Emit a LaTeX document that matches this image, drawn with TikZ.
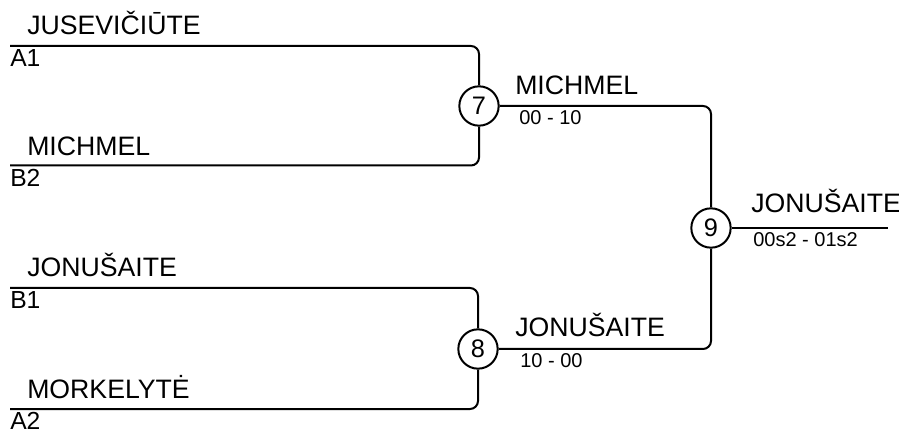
\documentclass[tikz,border=0pt]{standalone}
\usepackage{fontspec}
\setmainfont{Liberation Sans}

\tikzset{
  match/.style={circle,draw,line width=1.5pt,minimum size=29.5pt,inner sep=0pt,
    font=\fontsize{19}{22}\selectfont},
  player/.style={anchor=base west,inner sep=0pt,font=\fontsize{20}{24}\selectfont},
  seed/.style={anchor=base west,inner sep=0pt,font=\fontsize{18.5}{22}\selectfont},
  score/.style={anchor=base west,inner sep=0pt,font=\fontsize{15}{18}\selectfont},
  wire/.style={line width=1.5pt,rounded corners=6pt}
}

\begin{document}
\begin{tikzpicture}[x=0.75pt,y=-0.75pt]
            \useasboundingbox (0,0) rectangle (899,434);

            \coordinate (A1) at (10,46);
            \coordinate (B2) at (10,165.5);
            \coordinate (B1) at (10,288);
            \coordinate (A2) at (10,409);
            \coordinate (W) at (888,228);

            \node[match] (m7) at (479,106) {7};
            \node[match] (m8) at (478,349) {8};
            \node[match] (m9) at (711,228) {9};

            % first round
            \draw[wire] (A1) -| (m7.north);
            \draw[wire] (B2) -| (m7.south);
            \draw[wire] (B1) -| (m8.north);
            \draw[wire] (A2) -| (m8.south);

            % final
            \draw[wire] (m7.east) -| (m9.north);
            \draw[wire] (m8.east) -| (m9.south);
            \draw[wire] (m9.east) -- (W);

            \foreach \P/\who/\y/\s in {
                A1/JUSEVIČIŪTE/35/67, B2/MICHMEL/156/187,
                B1/JONUŠAITE/277/309, A2/MORKELYTĖ/398/429
            }{
                \node[player] (n\P) at (27,\y) {\who};
                \node[seed] (s\P) at (10,\s) {\P};
            }

            \node[player] (w7) at (515,95) {MICHMEL};
            \node[score] (r7) at (519,125) {00 - 10};
            \node[player] (w8) at (515,337) {JONUŠAITE};
            \node[score] (r8) at (520,368) {10 - 00};
            \node[player] (w9) at (751,213) {JONUŠAITE};
            \node[score] (r9) at (753,247) {00s2 - 01s2};
        \end{tikzpicture}
\end{document}
